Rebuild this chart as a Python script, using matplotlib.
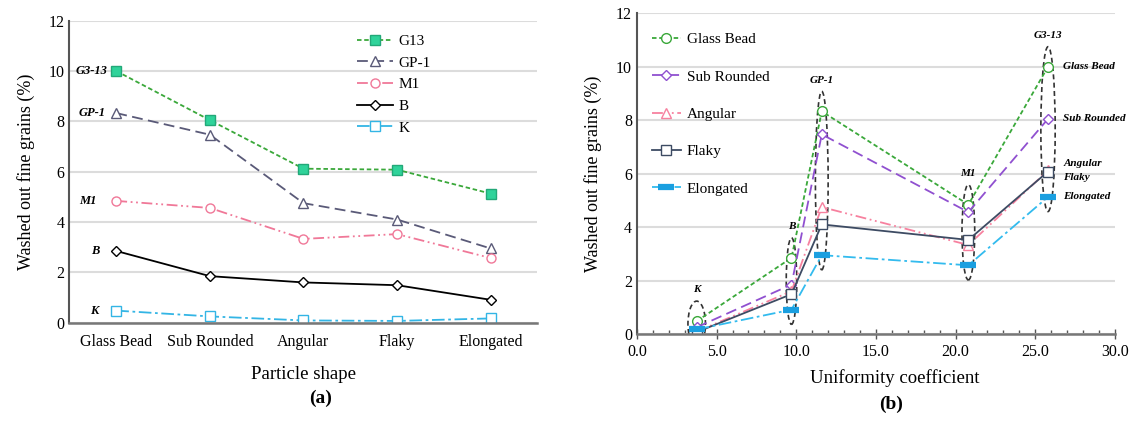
import numpy as np
import matplotlib.pyplot as plt
from matplotlib.patches import Ellipse

plt.rcParams['font.family'] = ['Liberation Serif', 'DejaVu Serif']

# particle shapes (x of panel a, series of panel b)
shapes = ['Glass Bead', 'Sub Rounded', 'Angular', 'Flaky', 'Elongated']
# soils (series of panel a)
soils = ['G13', 'GP-1', 'M1', 'B', 'K']
soil_tags = ['G3-13', 'GP-1', 'M1', 'B', 'K']
# uniformity coefficient of each soil
cu = [25.8, 11.6, 20.8, 9.7, 3.75]

# washed out fine grains (%), one list per soil, in shape order
g13 = [10.0, 8.05, 6.12, 6.08, 5.13]
gp1 = [8.33, 7.47, 4.75, 4.10, 2.95]
m1 = [4.84, 4.56, 3.33, 3.52, 2.57]
b = [2.85, 1.85, 1.60, 1.49, 0.91]
k = [0.48, 0.25, 0.09, 0.07, 0.17]
washed = np.array([g13, gp1, m1, b, k])

# styles
left_styles = [
    dict(color='#3aa83a', ls=(0, (2.5, 1.5)), marker='s', mfc='#2fd39a', mec='#22a878', ms=6.5),
    dict(color='#5a5a78', ls=(0, (6, 3)), marker='^', mfc='white', mec='#5a5a78', ms=6.5),
    dict(color='#f07898', ls=(0, (6, 2, 1, 2, 1, 2)), marker='o', mfc='white', mec='#f07898', ms=6.5),
    dict(color='black', ls='-', marker='D', mfc='white', mec='black', ms=5),
    dict(color='#33b5e5', ls=(0, (7, 2, 1.5, 2)), marker='s', mfc='white', mec='#33b5e5', ms=6.5),
]
right_styles = [
    dict(color='#3aa83a', ls=(0, (2.5, 1.5)), marker='o', mfc='white', mec='#3aa83a', ms=7),
    dict(color='#9050d0', ls=(0, (6, 3)), marker='D', mfc='white', mec='#9050d0', ms=5.5),
    dict(color='#f7819f', ls=(0, (6, 2, 1, 2, 1, 2)), marker='^', mfc='white', mec='#f7819f', ms=7.5),
    dict(color='#3d4b63', ls='-', marker='s', mfc='white', mec='#3d4b63', ms=7),
    dict(color='#33bbee', ls=(0, (7, 2, 1.5, 2)), marker='_', mfc='#1a9fe0', mec='#1a9fe0', ms=11, mew=4.5),
]
left_tag_dx = [-6, -8, -14, -12, -13]
right_tag_dy = [0, 0, 5, -4, 0]
ell_w = [0.9, 0.8, 0.8, 0.66, 1.1]

fig = plt.figure(figsize=(11.37, 4.21), dpi=100)
ax1 = fig.add_axes([0.0611, 0.2335, 0.4116, 0.7173])
ax2 = fig.add_axes([0.5602, 0.2067, 0.4204, 0.7617])


def style_axes(ax):
    ax.grid(axis='y', color='#dcdcdc', lw=1.5)
    ax.set_axisbelow(True)
    for s in ['top', 'right']:
        ax.spines[s].set_visible(False)
    ax.spines['left'].set_color('#555555')
    ax.spines['left'].set_linewidth(1.5)
    ax.spines['bottom'].set_color('#777777')
    ax.spines['bottom'].set_linewidth(1.8)
    ax.set_ylim(0, 12)
    ax.set_yticks(range(0, 13, 2))
    ax.tick_params(labelsize=11.5, length=0)


# ---- (a) ----
pos = np.arange(len(shapes))
for i, soil in enumerate(soils):
    st = left_styles[i]
    ax1.plot(pos, washed[i], lw=1.3, label=soil, **st)
    ax1.annotate(soil_tags[i], (pos[0], washed[i][0]), xytext=(left_tag_dx[i], 0),
                 textcoords='offset points', ha='right', va='center',
                 fontsize=9, fontweight='bold', fontstyle='italic')
style_axes(ax1)
ax1.set_xlim(-0.5, 4.5)
ax1.set_xticks(pos)
ax1.set_xticklabels(shapes)
ax1.tick_params(axis='x', pad=8)
ax1.set_xlabel('Particle shape', fontsize=13.5, labelpad=12)
ax1.set_ylabel('Washed out fine grains (%)', fontsize=13, labelpad=10)
ax1.legend(loc='upper left', bbox_to_anchor=(0.614, 0.955), frameon=False, fontsize=11,
           handlelength=2.4, handletextpad=0.3, labelspacing=0.52, borderpad=0, borderaxespad=0)
fig.text(0.282, 0.055, '(a)', fontsize=14, fontweight='bold', ha='center', va='center')

# ---- (b) ----
order = np.argsort(cu)
cu_sorted = np.array(cu)[order]
for j, shape in enumerate(shapes):
    st = right_styles[j]
    y = washed[order, j]
    ax2.plot(cu_sorted, y, lw=1.3, label=shape, **st)
    ax2.annotate(shape, (cu_sorted[-1], y[-1]), xytext=(11, right_tag_dy[j]),
                 textcoords='offset points', ha='left', va='center',
                 fontsize=8, fontweight='bold', fontstyle='italic')

for i, soil in enumerate(soils):
    lo, hi = washed[i].min(), washed[i].max()
    h = hi - lo + 1.3
    cy = (hi + lo) / 2 + 0.1
    ax2.add_patch(Ellipse((cu[i], cy), ell_w[i], h, fill=False, ec='#333333',
                          lw=1.2, ls=(0, (3, 2))))
    ax2.text(cu[i], cy + h / 2 + 0.25, soil_tags[i], ha='center', va='bottom',
             fontsize=8, fontweight='bold', fontstyle='italic')

style_axes(ax2)
ax2.set_xlim(0, 30)
ax2.set_xticks(np.arange(0, 31, 5))
ax2.set_xticklabels(['%.1f' % v for v in np.arange(0, 31, 5)])
ax2.set_xticks(np.arange(0, 31, 1), minor=True)
ax2.tick_params(axis='x', which='major', direction='inout', length=7, width=1, color='#555555')
ax2.tick_params(axis='x', which='minor', direction='in', length=3, width=1, color='#555555')
ax2.set_xlabel('Uniformity coefficient', fontsize=13.5)
ax2.xaxis.set_label_coords(0.54, -0.11)
ax2.set_ylabel('Washed out fine grains (%)', fontsize=13, labelpad=10)
ax2.legend(loc='upper left', bbox_to_anchor=(0.031, 0.94), frameon=False, fontsize=11,
           handlelength=1.9, handletextpad=0.4, labelspacing=1.55, borderpad=0, borderaxespad=0)
fig.text(0.784, 0.04, '(b)', fontsize=14, fontweight='bold', ha='center', va='center')

fig.savefig('out.png', dpi=100)
